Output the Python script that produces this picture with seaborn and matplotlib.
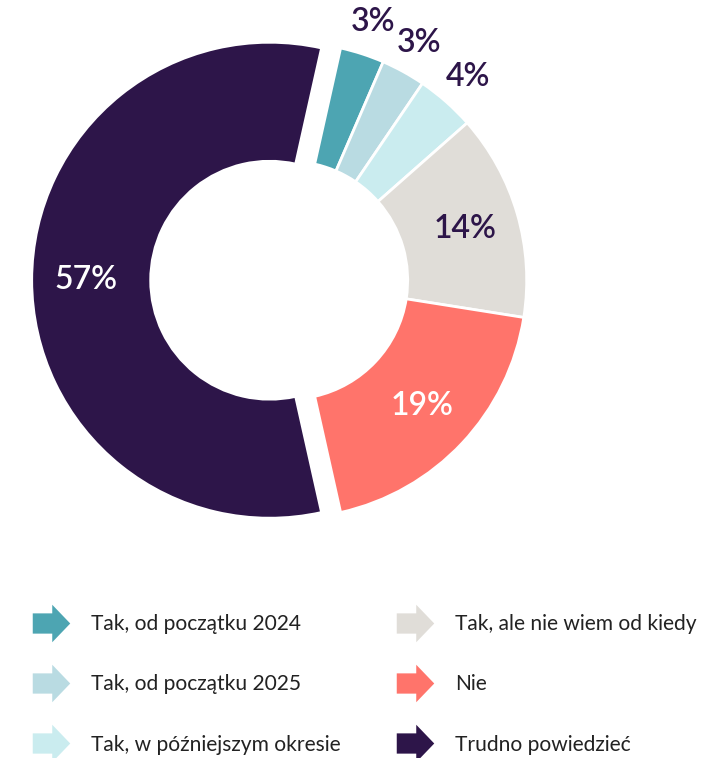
import numpy as np
import matplotlib
matplotlib.use("Agg")
import matplotlib.pyplot as plt
from matplotlib.path import Path
from matplotlib.lines import Line2D
import seaborn as sns

# data
categories = ["Tak, od początku 2024", "Tak, od początku 2025", "Tak, w późniejszym okresie",
              "Tak, ale nie wiem od kiedy", "Nie", "Trudno powiedzieć"]
values = [3, 3, 4, 14, 19, 57]
colors = ["#4DA5B2", "#B9DBE2", "#CAECEF", "#E0DDD8", "#FF746B", "#2D1549"]
label_colors = ["#2D1549", "#2D1549", "#2D1549", "#2D1549", "#FFFFFF", "#FFFFFF"]
explode = [0, 0, 0, 0, 0, 0.08]

sns.set_theme(style="white")
plt.rcParams['font.family'] = ['Lato', 'DejaVu Sans']

fig = plt.figure(figsize=(7.12, 7.58), dpi=100)
ax = fig.add_axes([-0.029, 0.222, 0.869, 0.8166])

wedges, _ = ax.pie(values, colors=colors, explode=explode, startangle=77.4,
                   counterclock=False, radius=1,
                   wedgeprops=dict(width=0.5, edgecolor="white", linewidth=2))

for w, v, c in zip(wedges, values, label_colors):
    mid = np.deg2rad((w.theta1 + w.theta2) / 2)
    r = 1.14 if v < 5 else 0.77
    cx, cy = w.center
    ax.text(cx + r * np.cos(mid), cy + r * np.sin(mid), f"{v}%", ha="center", va="center",
            fontsize=23, fontweight="semibold", color=c)

ax.set_xlim(-1.3, 1.3)
ax.set_ylim(-1.3, 1.3)
ax.set_aspect("equal")
ax.axis("off")

# arrow-shaped legend marker
arrow = Path([(-0.5, -0.27), (0.02, -0.27), (0.02, -0.5), (0.5, 0.0), (0.02, 0.5),
              (0.02, 0.27), (-0.5, 0.27), (-0.5, -0.27)],
             [Path.MOVETO] + [Path.LINETO] * 6 + [Path.CLOSEPOLY])
handles = [Line2D([], [], linestyle="none", marker=arrow, markersize=27,
                  markerfacecolor=c, markeredgewidth=0) for c in colors]
fig.legend(handles, categories, loc="upper left", bbox_to_anchor=(0.042, 0.19),
           ncol=2, frameon=False, fontsize=15.1, labelcolor="#222222",
           handlelength=2.0, handletextpad=0.9, labelspacing=1.92, columnspacing=2.57,
           borderpad=0, borderaxespad=0)

fig.savefig("out.png", dpi=100)
